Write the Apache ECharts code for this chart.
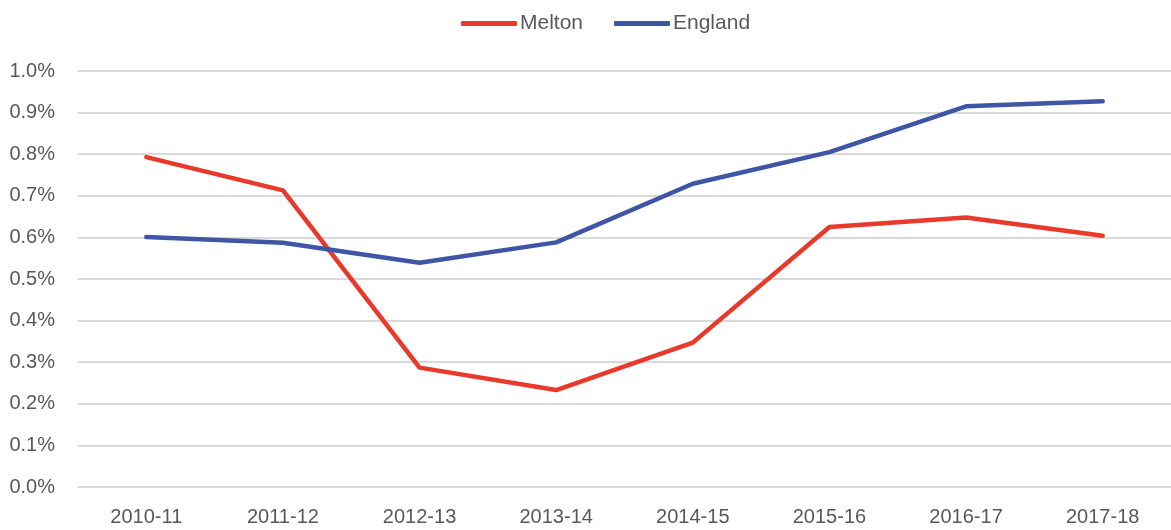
<!DOCTYPE html>
<html><head><meta charset="utf-8">
<script src="https://cdn.jsdelivr.net/npm/echarts@6/dist/echarts.min.js"></script>
<style>html,body{margin:0;padding:0;background:#fff}#c{width:1171px;height:530px}</style>
</head><body><div id="c"></div>
<script>
const categories = ['2010-11','2011-12','2012-13','2013-14','2014-15','2015-16','2016-17','2017-18'];
const melton = [0.793, 0.713, 0.287, 0.233, 0.347, 0.625, 0.648, 0.604];
const england = [0.601, 0.587, 0.539, 0.588, 0.729, 0.805, 0.915, 0.927];
const font = 'Liberation Sans';
const legendBase = {
  top:8, itemWidth:56, itemHeight:5, icon:'roundRect',
  textStyle:{fontSize:21,color:'#595959',fontFamily:font,padding:[0,0,0,-2]}
};
const chart = echarts.init(document.getElementById('c'));
chart.setOption({
  animation:false,
  textStyle:{fontFamily:font},
  legend:[
    Object.assign({}, legendBase, {left:456, data:['Melton']}),
    Object.assign({}, legendBase, {left:609, data:['England']})
  ],
  grid:{left:78, top:71, width:1097, height:416, containLabel:false},
  xAxis:{
    type:'category', data:categories, boundaryGap:true,
    axisLine:{show:false}, axisTick:{show:false},
    axisLabel:{fontSize:20,color:'#595959',margin:20,fontFamily:font}
  },
  yAxis:{
    type:'value', min:0, max:1.0, interval:0.1,
    axisLine:{show:false}, axisTick:{show:false},
    splitLine:{lineStyle:{color:'#d9d9d9',width:2}},
    axisLabel:{fontSize:20,color:'#595959',margin:23,fontFamily:font,
      formatter:v=>v.toFixed(1)+'%'}
  },
  series:[
    {name:'Melton',type:'line',data:melton,symbol:'none',color:'#E8392A',
     lineStyle:{width:4.5,color:'#E8392A',cap:'round',join:'round'}},
    {name:'England',type:'line',data:england,symbol:'none',color:'#3F56A6',
     lineStyle:{width:4.5,color:'#3F56A6',cap:'round',join:'round'}}
  ]
});
</script></body></html>
